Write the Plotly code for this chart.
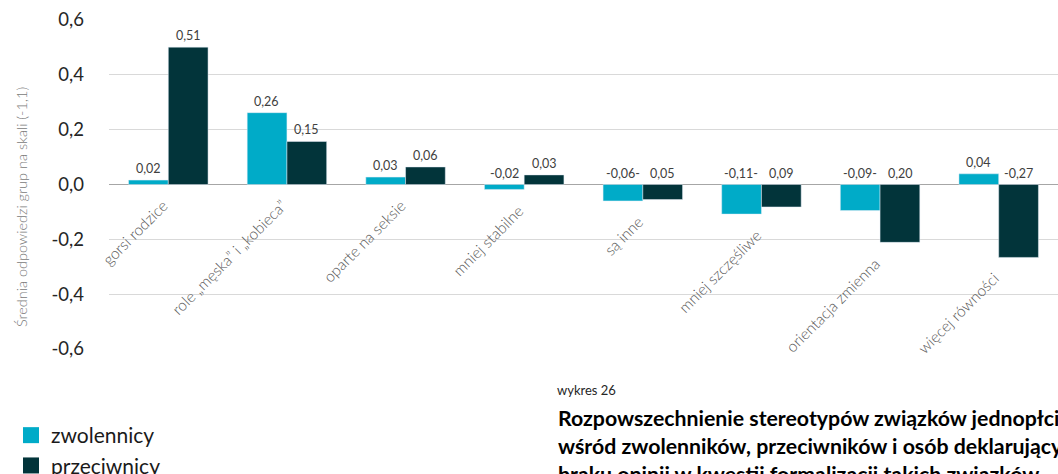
import plotly.graph_objects as go

categories = ["gorsi rodzice", "role „męska” i „kobieca”", "oparte na seksie", "mniej stabilne",
              "są inne", "mniej szczęśliwe", "orientacja zmienna", "więcej równości"]
zwolennicy = [0.016, 0.262, 0.027, -0.018, -0.060, -0.108, -0.095, 0.039]
przeciwnicy = [0.501, 0.157, 0.064, 0.035, -0.055, -0.082, -0.211, -0.266]
zwol_labels = ["0,02", "0,26", "0,03", "-0,02", "-0,06-", "-0,11-", "-0,09-", "0,04"]
przec_labels = ["0,51", "0,15", "0,06", "0,03", "0,05", "0,09", "0,20", "-0,27"]
y_ticks = [-0.6, -0.4, -0.2, 0.0, 0.2, 0.4, 0.6]
y_ticktext = ["-0,6", "-0,4", "-0,2", "0,0", "0,2", "0,4", "0,6"]

C_ZW = "#00abc8"
C_PR = "#02343a"
FONT = "Lato"

fig = go.Figure()
fig.add_trace(go.Bar(x=categories, y=zwolennicy, name="zwolennicy", marker_color=C_ZW,
                     showlegend=False))
fig.add_trace(go.Bar(x=categories, y=przeciwnicy, name="przeciwnicy", marker_color=C_PR,
                     showlegend=False))
# legend entries
fig.add_trace(go.Scatter(x=[None], y=[None], mode="markers", name="zwolennicy",
                         marker=dict(symbol="square", size=21, color=C_ZW)))
fig.add_trace(go.Scatter(x=[None], y=[None], mode="markers", name="przeciwnicy",
                         marker=dict(symbol="square", size=21, color=C_PR)))

ann = []
for i, c in enumerate(categories):
    for vals, labs, dx in ((zwolennicy, zwol_labels, -20), (przeciwnicy, przec_labels, 20)):
        v = vals[i]
        ann.append(dict(x=i, y=max(v, 0), text=labs[i], showarrow=False, xref="x", yref="y",
                        xanchor="center", yanchor="bottom", xshift=dx, yshift=2,
                        font=dict(family=FONT, size=12.5, color="#404040")))
    low = min(zwolennicy[i], przeciwnicy[i], 0)
    ann.append(dict(x=i, y=low, text=c, showarrow=False, xref="x", yref="y",
                    textangle=-45, xanchor="right", yanchor="top", xshift=6, yshift=-9,
                    font=dict(family=FONT, size=15.5, color="#595959", weight=300)))

ann.append(dict(x=21, y=207, xref="paper", yref="paper", text="Średnia odpowiedzi grup na skali (-1,1)",
                showarrow=False, textangle=-90, xanchor="center", yanchor="middle",
                font=dict(family=FONT, size=14.5, color="#7a7a7a", weight=300)))
ann.append(dict(x=555, y=390, xref="paper", yref="paper", text="wykres 26", showarrow=False,
                xanchor="left", yanchor="middle", font=dict(family=FONT, size=13, color="#262626")))
title_lines = ["Rozpowszechnienie stereotypów związków jednopłciowych",
               "wśród zwolenników, przeciwników i osób deklarujących",
               "braku opinii w kwestii formalizacji takich związków"]
for k, t in enumerate(title_lines):
    ann.append(dict(x=556, y=418 + 28 * k, xref="paper", yref="paper", text="<b>" + t + "</b>",
                    showarrow=False, xanchor="left", yanchor="middle",
                    font=dict(family=FONT, size=21.3, color="#000000")))

# convert pixel-based paper positions
W, H = 1058, 474
ML, MR, MT, MB = 109, 0, 20, 125
pw, ph = W - ML - MR, H - MT - MB
for a in ann:
    if a.get("xref") == "paper":
        a["x"] = (a["x"] - ML) / pw
        a["y"] = 1 - (a["y"] - MT) / ph

fig.update_layout(
    width=W, height=H,
    margin=dict(l=ML, r=MR, t=MT, b=MB, pad=0, autoexpand=False),
    paper_bgcolor="white", plot_bgcolor="white",
    barmode="group", bargap=0.33, bargroupgap=0,
    font=dict(family=FONT),
    annotations=ann,
    showlegend=True,
    legend=dict(x=(11 - ML) / pw, y=1 - (415 - MT) / ph, xanchor="left", yanchor="top",
                font=dict(family=FONT, size=21, color="#1a1a1a"), itemsizing="trace",
                tracegroupgap=0, bgcolor="rgba(0,0,0,0)"),
)
fig.update_xaxes(type="category", range=[-0.5, len(categories) - 0.5], autorange=False,
                 showticklabels=False, showgrid=False, zeroline=False, showline=False, ticks="",
                 categoryorder="array", categoryarray=categories)
fig.update_yaxes(range=[-0.6, 0.6], tickvals=y_ticks, ticktext=y_ticktext, showgrid=True,
                 gridcolor="#d9d9d9", gridwidth=1, zeroline=True, zerolinecolor="#a6a6a6",
                 zerolinewidth=1.3, showline=False, ticks="", ticklabelstandoff=24,
                 tickfont=dict(family=FONT, size=18.5, color="#262626"))

fig.write_html("out.html", config={"displayModeBar": False},
               post_script="document.body.style.margin='0';document.body.style.padding='0';"
                           "document.body.style.overflow='hidden';")
